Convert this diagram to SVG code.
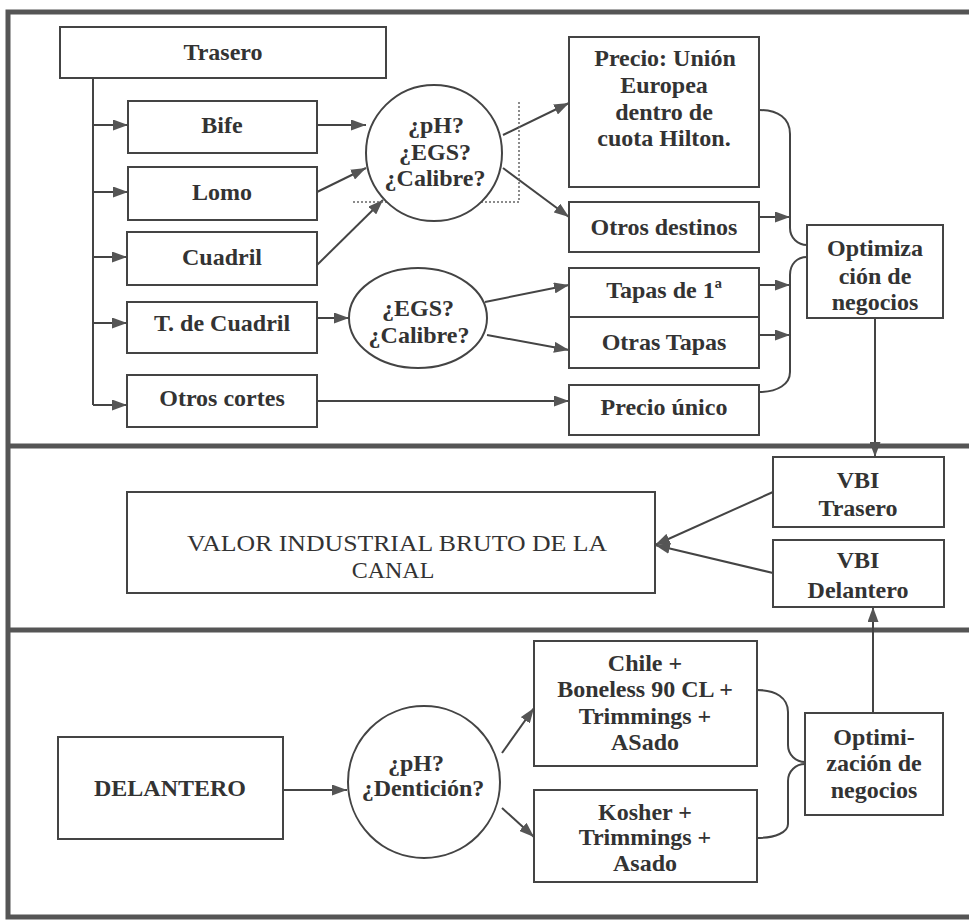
<svg xmlns="http://www.w3.org/2000/svg" width="969" height="921" viewBox="0 0 969 921" font-family="Liberation Serif, DejaVu Serif, serif">
<style>
.box{fill:#fff;stroke:#444;stroke-width:2}
.t{font-weight:bold;font-size:24px;fill:#333;text-anchor:middle}
.r{font-weight:normal;font-size:24px}
.ln{fill:none;stroke:#444;stroke-width:2}
.ar{fill:none;stroke:#444;stroke-width:2;marker-end:url(#ah)}
.frame{fill:none;stroke:#555;stroke-width:5}
.dot{fill:none;stroke:#666;stroke-width:1.5;stroke-dasharray:2 2}
</style>
<defs>
<marker id="ah" viewBox="0 0 15 11" refX="15" refY="5.5" markerWidth="15" markerHeight="11" markerUnits="userSpaceOnUse" orient="auto">
<path d="M0,0 L15,5.5 L0,11 z" fill="#555"/>
</marker>
</defs>
<rect width="969" height="921" fill="#fff"/>
<g id="frames">
<path class="frame" d="M969,12 H8 V917 H969 M8,446 H969 M8,630 H969"/>
</g>
<g id="connectors">
<path class="ln" d="M93,78 V405"/>
<path class="ar" d="M93,125 H128"/>
<path class="ar" d="M93,192 H128"/>
<path class="ar" d="M93,257 H127"/>
<path class="ar" d="M93,323 H127"/>
<path class="ar" d="M93,405 H127"/>
<path class="ar" d="M317,125 H366"/>
<path class="ar" d="M317,192 L366,168"/>
<path class="ar" d="M317,265 L383,200"/>
<path class="ar" d="M503,135 L569,103"/>
<path class="ar" d="M503,168 L569,217"/>
<path class="ar" d="M317,318 H349"/>
<path class="ar" d="M485,302 L569,285"/>
<path class="ar" d="M487,335 L569,350"/>
<path class="ar" d="M317,401 H569"/>
<path class="dot" d="M519,102 V202 H352"/>
<path class="ln" d="M759,110 C778,110 790,118 790,134 V228 C790,238 798,245 807,245"/>
<path class="ln" d="M807,257 C797,257 790,264 790,275 V372 C790,384 778,392 759,392"/>
<path class="ar" d="M759,217 H790"/>
<path class="ar" d="M759,285 H790"/>
<path class="ar" d="M759,335 H790"/>
<path class="ar" d="M875,318 V457"/>
<path class="ar" d="M773,492 L655,545"/>
<path class="ar" d="M773,573 L655,545"/>
<path class="ar" d="M873,713 V607"/>
<path class="ar" d="M283,790 H347"/>
<path class="ar" d="M502,753 L534,708"/>
<path class="ar" d="M502,808 L534,837"/>
<path class="ln" d="M757,690 C776,690 788,698 788,712 V745 C788,755 796,762 805,762"/>
<path class="ln" d="M805,764 C796,764 788,771 788,781 V824 C788,832 776,838 757,838"/>
</g>
<g id="trasero"><rect class="box" x="60" y="27" width="326" height="51"/><text class="t" x="223" y="60">Trasero</text></g>
<g id="bife"><rect class="box" x="128" y="101" width="189" height="52"/><text class="t" x="222" y="133">Bife</text></g>
<g id="lomo"><rect class="box" x="128" y="167" width="189" height="53"/><text class="t" x="222" y="200">Lomo</text></g>
<g id="cuadril"><rect class="box" x="127" y="232" width="190" height="53"/><text class="t" x="222" y="265">Cuadril</text></g>
<g id="tcuadril"><rect class="box" x="127" y="302" width="190" height="51"/><text class="t" x="222" y="331">T. de Cuadril</text></g>
<g id="otroscortes"><rect class="box" x="127" y="375" width="190" height="52"/><text class="t" x="222" y="406">Otros cortes</text></g>
<g id="q1"><circle class="box" cx="434" cy="153" r="68"/>
<text class="t" x="436" y="133">¿pH?</text><text class="t" x="435" y="160">¿EGS?</text><text class="t" x="435" y="186">¿Calibre?</text></g>
<g id="q2"><ellipse class="box" cx="418" cy="318" rx="69" ry="50"/>
<text class="t" x="418" y="316">¿EGS?</text><text class="t" x="419" y="343">¿Calibre?</text></g>
<g id="precioue"><rect class="box" x="569" y="37" width="190" height="150"/>
<text class="t" x="665" y="66">Precio: Unión</text><text class="t" x="664" y="93">Europea</text><text class="t" x="664" y="120">dentro de</text><text class="t" x="664" y="146">cuota Hilton.</text></g>
<g id="otrosdestinos"><rect class="box" x="569" y="202" width="190" height="50"/><text class="t" x="664" y="235">Otros destinos</text></g>
<g id="tapas1"><rect class="box" x="569" y="268" width="190" height="49"/><text class="t" x="664" y="298">Tapas de 1ª</text></g>
<g id="otrastapas"><rect class="box" x="569" y="317" width="190" height="51"/><text class="t" x="664" y="350">Otras Tapas</text></g>
<g id="preciounico"><rect class="box" x="569" y="385" width="190" height="50"/><text class="t" x="664" y="415">Precio único</text></g>
<g id="opt1"><rect class="box" x="807" y="225" width="136" height="93"/>
<text class="t" x="875" y="256">Optimiza</text><text class="t" x="875" y="284">ción de</text><text class="t" x="875" y="310">negocios</text></g>
<g id="vbitrasero"><rect class="box" x="773" y="457" width="171" height="70"/>
<text class="t" x="858" y="488">VBI</text><text class="t" x="858" y="516">Trasero</text></g>
<g id="vbidelantero"><rect class="box" x="773" y="540" width="171" height="67"/>
<text class="t" x="858" y="568">VBI</text><text class="t" x="858" y="598">Delantero</text></g>
<g id="valor"><rect class="box" x="127" y="492" width="528" height="101"/>
<text class="t r" x="397" y="551" textLength="420" lengthAdjust="spacingAndGlyphs">VALOR INDUSTRIAL BRUTO DE LA</text><text class="t r" x="393" y="578">CANAL</text></g>
<g id="delantero"><rect class="box" x="58" y="737" width="225" height="102"/><text class="t" x="170" y="796">DELANTERO</text></g>
<g id="q3"><circle class="box" cx="424" cy="782" r="76"/>
<text class="t" x="416" y="771">¿pH?</text><text class="t" x="423" y="796">¿Dentición?</text></g>
<g id="chile"><rect class="box" x="534" y="641" width="223" height="125"/>
<text class="t" x="645" y="671">Chile +</text><text class="t" x="645" y="697">Boneless 90 CL +</text><text class="t" x="645" y="724">Trimmings +</text><text class="t" x="645" y="750">ASado</text></g>
<g id="kosher"><rect class="box" x="534" y="790" width="223" height="92"/>
<text class="t" x="645" y="820">Kosher +</text><text class="t" x="645" y="845">Trimmings +</text><text class="t" x="645" y="871">Asado</text></g>
<g id="opt2"><rect class="box" x="805" y="713" width="138" height="102"/>
<text class="t" x="874" y="745">Optimi-</text><text class="t" x="874" y="771">zación de</text><text class="t" x="874" y="798">negocios</text></g>
</svg>
